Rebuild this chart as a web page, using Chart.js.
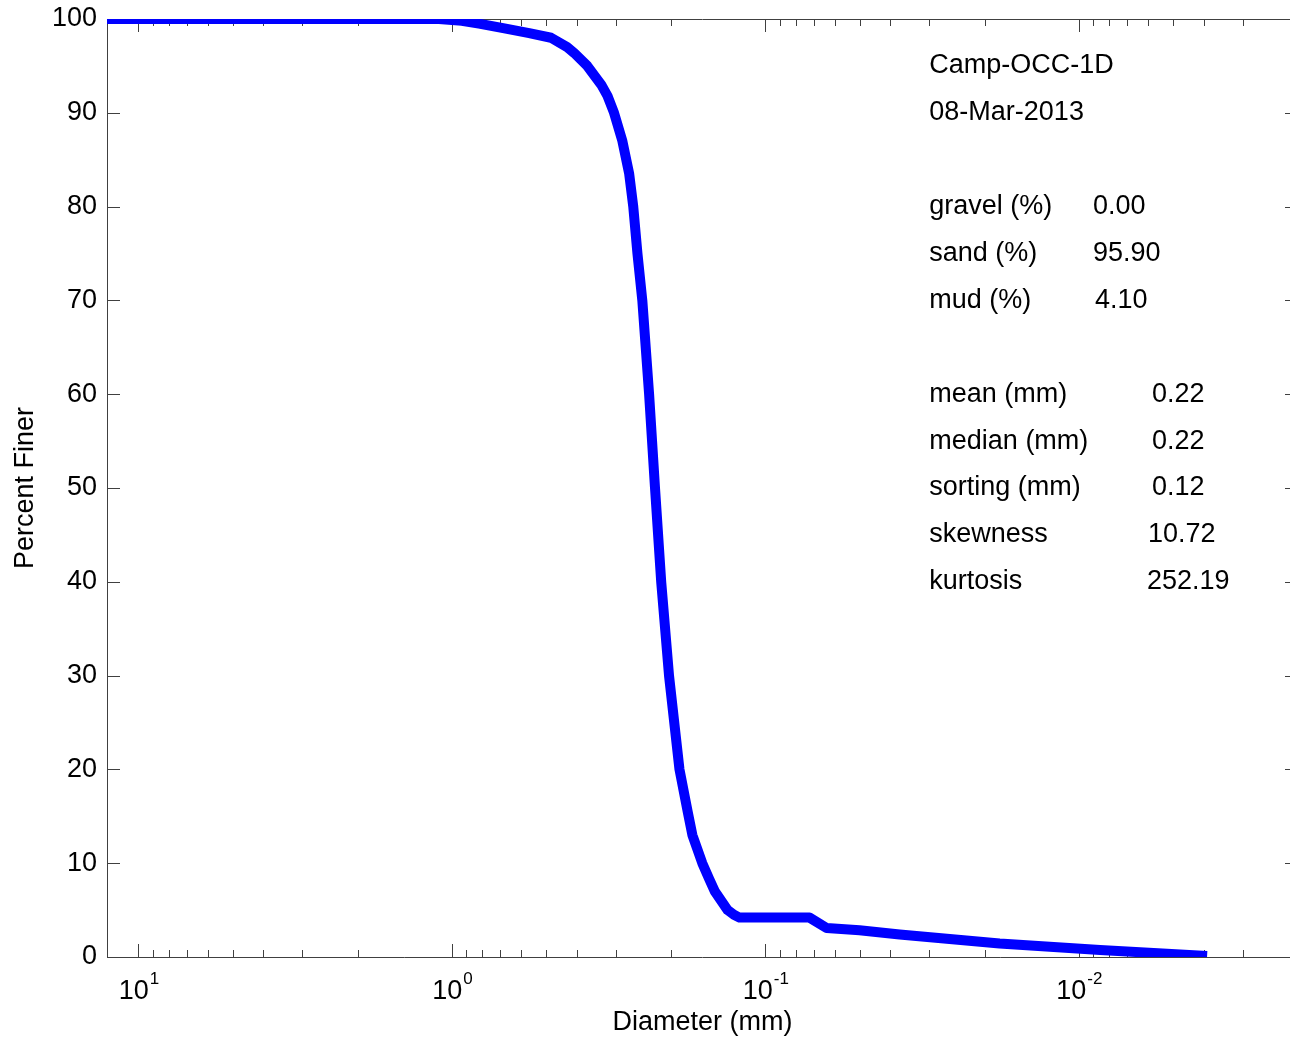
<!DOCTYPE html>
<html>
<head>
<meta charset="utf-8">
<script src="https://cdn.jsdelivr.net/npm/chart.js@4.4.1/dist/chart.umd.min.js"></script>
<style>
  html, body { margin: 0; padding: 0; background: #fff; overflow: hidden; }
  #wrap { width: 1300px; height: 1041px; position: relative; }
</style>
</head>
<body>
<div id="wrap"><canvas id="ch"></canvas></div>
<script>
// grain size curve
var diameters = [12.6, 1.10, 0.93, 0.82, 0.68, 0.567, 0.483, 0.429, 0.408, 0.37, 0.334, 0.319, 0.304, 0.286,
  0.272, 0.264, 0.256, 0.247, 0.235, 0.225, 0.215, 0.203, 0.188, 0.177, 0.171, 0.159, 0.151, 0.145,
  0.132, 0.126, 0.121, 0.0723, 0.0638, 0.0501, 0.0373, 0.0179, 0.00856, 0.0039];
var percentFiner = [100, 100, 99.8, 99.5, 99.0, 98.5, 98.0, 97.0, 96.4, 95.0, 93.0, 91.8, 90.0, 87.0,
  83.5, 80.0, 75.0, 70.0, 60.0, 50.0, 40.0, 30.0, 20.0, 15.5, 13.0, 10.0, 8.3, 7.0,
  5.0, 4.5, 4.2, 4.2, 3.1, 2.85, 2.4, 1.45, 0.75, 0.1];

var xDecades = [10, 1, 0.1, 0.01];
var xExponents = ['1', '0', '-1', '-2'];

var infoLines = ['Camp-OCC-1D', '08-Mar-2013'];
var statNames = ['gravel (%)', 'sand (%)', 'mud (%)', 'mean (mm)', 'median (mm)', 'sorting (mm)', 'skewness', 'kurtosis'];
var statValues = ['0.00', '95.90', '4.10', '0.22', '0.22', '0.12', '10.72', '252.19'];

var FONT = "'Liberation Sans', Arial, sans-serif";
var AXIS = '#404040';

var points = diameters.map(function (d, i) { return { x: d, y: percentFiner[i] }; });

// box, inward ticks, x labels with exponents, text block
var decor = {
  id: 'decor',
  beforeDatasetsDraw: function (chart) {
    var c = chart.ctx, a = chart.chartArea;
    var xs = chart.scales.x, ys = chart.scales.y;
    c.save();
    c.strokeStyle = AXIS;
    c.lineWidth = 1;
    c.beginPath();
    c.moveTo(a.left + 0.5, a.top + 0.5); c.lineTo(a.right - 0.5, a.top + 0.5);
    c.moveTo(a.left + 0.5, a.top); c.lineTo(a.left + 0.5, a.bottom);
    c.moveTo(a.left, a.bottom + 0.5); c.lineTo(a.right, a.bottom + 0.5);
    c.moveTo(a.right - 0.5, a.top); c.lineTo(a.right - 0.5, a.bottom);
    // y ticks left and right
    for (var v = 0; v <= 100; v += 10) {
      var py = Math.round(ys.getPixelForValue(v)) + 0.5;
      c.moveTo(a.left, py); c.lineTo(a.left + 13, py);
      c.moveTo(a.right, py); c.lineTo(a.right - 13, py);
    }
    // x ticks, major and minor
    for (var k = -3; k <= 1; k++) {
      for (var m = 1; m <= 9; m++) {
        var val = m * Math.pow(10, k);
        if (val < xs.min || val > xs.max) continue;
        var px = Math.round(xs.getPixelForValue(val)) + 0.5;
        var len = m === 1 ? 13 : 7;
        c.moveTo(px, a.bottom); c.lineTo(px, a.bottom - len);
        c.moveTo(px, a.top); c.lineTo(px, a.top + len);
      }
    }
    c.stroke();
    c.restore();
  },
  afterDraw: function (chart) {
    var c = chart.ctx, a = chart.chartArea;
    var xs = chart.scales.x, ys = chart.scales.y;
    c.save();
    c.fillStyle = '#000';
    // decade labels 10^n
    c.textBaseline = 'alphabetic';
    c.textAlign = 'left';
    xDecades.forEach(function (d, i) {
      var px = xs.getPixelForValue(d);
      c.font = '27px ' + FONT;
      var wb = c.measureText('10').width;
      c.font = '17px ' + FONT;
      var we = c.measureText(xExponents[i]).width;
      var x0 = px - (wb + we) / 2;
      c.font = '27px ' + FONT;
      c.fillText('10', x0, a.bottom + 42);
      c.font = '17px ' + FONT;
      c.fillText(xExponents[i], x0 + wb + 1, a.bottom + 27);
    });
    // text block
    c.font = '27px ' + FONT;
    c.textBaseline = 'middle';
    var labelX = xs.getPixelForValue(0.03);
    var infoRows = [95, 90];
    infoLines.forEach(function (t, i) {
      c.fillText(t, labelX, ys.getPixelForValue(infoRows[i]));
    });
    var statRows = [80, 75, 70, 60, 55, 50, 45, 40];
    var valueX = [1093, 1093, 1095, 1152, 1152, 1152, 1148, 1147];
    statNames.forEach(function (t, i) {
      var py = ys.getPixelForValue(statRows[i]);
      c.fillText(t, labelX, py);
      c.fillText(statValues[i], valueX[i], py);
    });
    c.restore();
  }
};

var ctx = document.getElementById('ch').getContext('2d');
var myChart = new Chart(ctx, {
  type: 'line',
  data: {
    datasets: [{
      data: points,
      borderColor: '#0000ff',
      borderWidth: 10,
      borderJoinStyle: 'round',
      pointRadius: 0,
      tension: 0,
      fill: false,
      clip: 0
    }]
  },
  options: {
    responsive: true,
    maintainAspectRatio: false,
    animation: false,
    layout: { padding: { top: 19, right: 2, left: 0, bottom: 0 } },
    plugins: { legend: { display: false }, tooltip: { enabled: false } },
    scales: {
      x: {
        type: 'logarithmic',
        reverse: true,
        min: 0.002,
        max: 12.6,
        bounds: 'data',
        grid: { display: false, drawTicks: false },
        border: { display: false },
        ticks: { display: false },
        title: {
          display: true,
          text: 'Diameter (mm)',
          color: '#000',
          font: { family: FONT, size: 27 },
          padding: { top: 0, bottom: 2 }
        },
        afterFit: function (s) { s.height = 84; }
      },
      y: {
        min: 0,
        max: 100,
        grid: { display: false, drawTicks: false },
        border: { display: false },
        ticks: {
          stepSize: 10,
          padding: 10,
          color: '#000',
          font: { family: FONT, size: 27 }
        },
        title: {
          display: true,
          text: 'Percent Finer',
          color: '#000',
          font: { family: FONT, size: 27 },
          padding: { top: 9, bottom: 0 }
        },
        afterFit: function (s) {
          s.width = 107;
          s.paddingTop = 0;
          s.paddingBottom = 0;
        }
      }
    }
  },
  plugins: [decor]
});
</script>
</body>
</html>
